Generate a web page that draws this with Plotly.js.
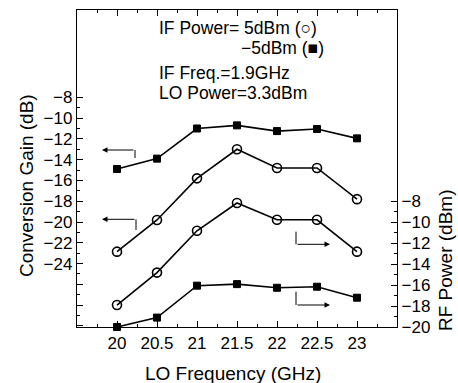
<!DOCTYPE html>
<html>
<head>
<meta charset="utf-8">
<script src="https://cdn.plot.ly/plotly-3.0.1.min.js"></script>
<style>html,body{margin:0;padding:0;background:#fff;}#chart{width:458px;height:383px;}</style>
</head>
<body>
<div id="chart"></div>
<script>
// LO frequency (GHz)
const freq = [20, 20.5, 21, 21.5, 22, 22.5, 23];
// Conversion gain (dB), left axis
const gainIFm5 = [-14.9, -13.9, -11.0, -10.7, -11.25, -11.05, -11.95];
const gainIF5 = [-22.85, -19.8, -15.8, -13.0, -14.8, -14.8, -17.8];
// RF power (dBm), right axis
const rfIF5 = [-17.9, -14.8, -10.8, -8.15, -9.75, -9.75, -12.8];
const rfIFm5 = [-20.0, -19.1, -16.05, -15.9, -16.25, -16.15, -17.2];

const xTicks = [20, 20.5, 21, 21.5, 22, 22.5, 23];
const xTickText = ['20', '20.5', '21', '21.5', '22', '22.5', '23'];
const leftTicks = [-30, -28, -26, -24, -22, -20, -18, -16, -14, -12, -10, -8];
const leftTickText = ['', '', '', '\u221224', '\u221222', '\u221220', '\u221218', '\u221216', '\u221214', '\u221212', '\u221210', '\u22128'];
const rightTicks = [-20, -18, -16, -14, -12, -10, -8];
const rightTickText = ['\u221220', '\u221218', '\u221216', '\u221214', '\u221212', '\u221210', '\u22128'];

const font = 'Liberation Sans, Arial, sans-serif';
const lineStyle = {color: '#000', width: 1.6};
const sq = {symbol: 'square', size: 7, color: '#000', line: {color: '#000', width: 1}};
const circ = {symbol: 'circle-open', size: 9, color: '#000', line: {color: '#000', width: 1.6}};

const traces = [
  {x: freq, y: gainIFm5, mode: 'lines+markers', line: lineStyle, marker: sq, yaxis: 'y', cliponaxis: false},
  {x: freq, y: gainIF5, mode: 'lines+markers', line: lineStyle, marker: circ, yaxis: 'y', cliponaxis: false},
  {x: freq, y: rfIF5, mode: 'lines+markers', line: lineStyle, marker: circ, yaxis: 'y2', cliponaxis: false},
  {x: freq, y: rfIFm5, mode: 'lines+markers', line: lineStyle, marker: sq, yaxis: 'y2', cliponaxis: false}
];

function range(a, b, s) { const r = []; for (let v = a; v <= b + 1e-9; v += s) r.push(+v.toFixed(3)); return r; }

const L = 77, R = 397, T = 10, B = 327;
const px = x => (x - L) / (R - L);
const py = y => (B - y) / (B - T);

const arrows = [
  {hx: 102, hy: 150, tx: 135, vy: 158},
  {hx: 102, hy: 219.3, tx: 136, vy: 230},
  {hx: 330, hy: 244.3, tx: 296, vy: 231.7},
  {hx: 330, hy: 305, tx: 296, vy: 291.7}
];

const annotations = [];
const shapes = [];
arrows.forEach(a => {
  annotations.push({xref: 'paper', yref: 'paper', x: px(a.hx), y: py(a.hy), ax: a.tx - a.hx, ay: 0,
    axref: 'pixel', ayref: 'pixel', text: '', showarrow: true, arrowhead: 2, arrowsize: 1.1, arrowwidth: 1, arrowcolor: '#000'});
  shapes.push({type: 'line', xref: 'paper', yref: 'paper', x0: px(a.tx), x1: px(a.tx), y0: py(a.hy), y1: py(a.vy),
    line: {color: '#000', width: 1}});
});

const txt = (text, x, y, extra) => Object.assign({xref: 'paper', yref: 'paper', x: px(x), y: py(y), text: text,
  showarrow: false, xanchor: 'left', yanchor: 'middle', borderpad: 0, font: {family: font, size: 17.5, color: '#000'}}, extra || {});

annotations.push(txt('IF Power= 5dBm (\u25CB)', 158, 28));
annotations.push(txt('\u22125dBm (\u25A0)', 240, 48));
annotations.push(txt('IF Freq.=1.9GHz', 158, 72.5));
annotations.push(txt('LO Power=3.3dBm', 158, 92.5));
annotations.push(txt('Conversion Gain (dB)', 26, 186, {xanchor: 'center', textangle: -90, font: {family: font, size: 19, color: '#000'}}));
annotations.push(txt('RF Power (dBm)', 445, 261, {xanchor: 'center', textangle: -90, font: {family: font, size: 19, color: '#000'}}));
annotations.push(txt('LO Frequency (GHz)', 233, 373, {xanchor: 'center', font: {family: font, size: 19, color: '#000'}}));

const layout = {
  width: 458, height: 383,
  margin: {l: L, r: 458 - R, t: T, b: 383 - B, pad: 0},
  paper_bgcolor: '#fff', plot_bgcolor: '#fff',
  showlegend: false,
  font: {family: font, size: 17, color: '#000'},
  xaxis: {range: [19.5, 23.5], showgrid: false, zeroline: false, showline: true, linecolor: '#000', linewidth: 1.2,
    mirror: 'ticks', ticks: 'inside', ticklen: 6, tickwidth: 1, tickcolor: '#000',
    tickvals: xTicks, ticktext: xTickText, tickfont: {family: font, size: 17},
    minor: {tickvals: range(19.75, 23.25, 0.5), ticks: 'inside', ticklen: 3, tickwidth: 1, tickcolor: '#000', showgrid: false}},
  yaxis: {range: [-30.1, 0.4], showgrid: false, zeroline: false, showline: true, linecolor: '#000', linewidth: 1.2,
    ticks: 'inside', ticklen: 6, tickwidth: 1, tickcolor: '#000',
    tickvals: leftTicks, ticktext: leftTickText, tickfont: {family: font, size: 17}, ticklabelstandoff: 0,
    minor: {tickvals: range(-29, -9, 2), ticks: 'inside', ticklen: 3, tickwidth: 1, tickcolor: '#000', showgrid: false}},
  yaxis2: {range: [-20, 10.3], overlaying: 'y', side: 'right', showgrid: false, zeroline: false, showline: true,
    linecolor: '#000', linewidth: 1.2, ticks: 'inside', ticklen: 6, tickwidth: 1, tickcolor: '#000',
    tickvals: rightTicks, ticktext: rightTickText, tickfont: {family: font, size: 17}, ticklabelstandoff: 0,
    minor: {tickvals: range(-19, -9, 2), ticks: 'inside', ticklen: 3, tickwidth: 1, tickcolor: '#000', showgrid: false}},
  annotations: annotations,
  shapes: shapes
};

Plotly.newPlot('chart', traces, layout, {staticPlot: true, displayModeBar: false});
</script>
</body>
</html>
